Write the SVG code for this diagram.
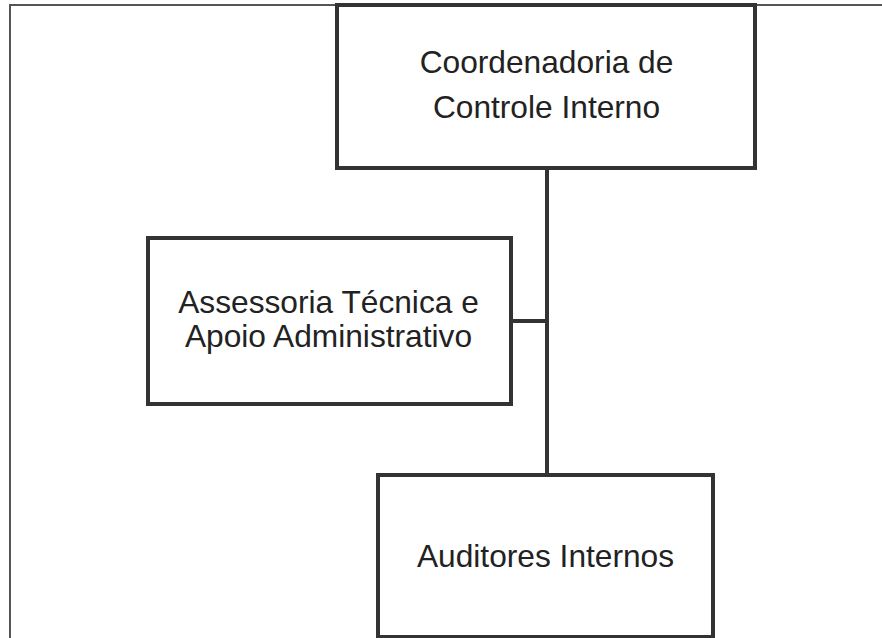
<svg xmlns="http://www.w3.org/2000/svg" width="882" height="638" viewBox="0 0 882 638">
<style>
.box{fill:#fff;stroke:#333;stroke-width:4}
.conn{fill:none;stroke:#333;stroke-width:4}
.frame{fill:none;stroke:#555;stroke-width:2}
text{font-family:"Liberation Sans",Arial,sans-serif;font-size:31.7px;fill:#222;text-anchor:middle}
</style>
<rect width="882" height="638" fill="#fff"/>
<path class="frame" d="M10,640 V5 H884"/>
<g id="connectors">
<line class="conn" x1="547" y1="168" x2="547" y2="475"/>
<line class="conn" x1="511" y1="321" x2="547" y2="321"/>
</g>
<g id="coordenadoria">
<rect class="box" x="337" y="5" width="418" height="163"/>
<text x="546.5" y="73">Coordenadoria de</text>
<text x="546.5" y="118">Controle Interno</text>
</g>
<g id="assessoria">
<rect class="box" x="148" y="238" width="363" height="166"/>
<text x="328.5" y="313">Assessoria Técnica e</text>
<text x="328.5" y="347">Apoio Administrativo</text>
</g>
<g id="auditores">
<rect class="box" x="378" y="475" width="335" height="162"/>
<text x="545.5" y="567">Auditores Internos</text>
</g>
</svg>
